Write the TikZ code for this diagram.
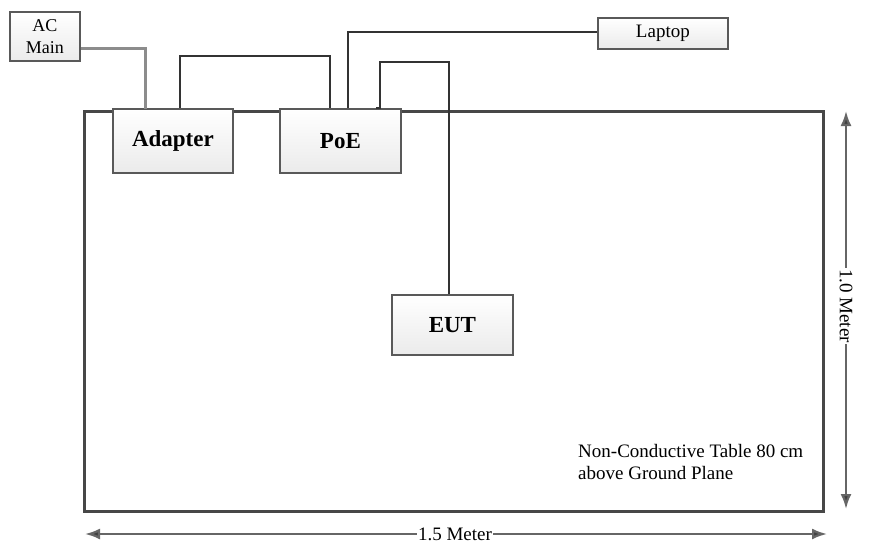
\documentclass[tikz,border=0pt]{standalone}
\usepackage{fontspec}
\setmainfont{Liberation Serif}
\usetikzlibrary{shadows,arrows.meta}
\begin{document}
\begin{tikzpicture}[x=1pt,y=-1pt,
  box/.style={draw=black!65,line width=1.8pt,top color=white,bottom color=black!8,
    drop shadow={shadow xshift=1.5pt,shadow yshift=-1.5pt,opacity=0.35},inner sep=0pt},
  wire/.style={draw=black!80,line width=1.8pt},
  graywire/.style={draw=black!45,line width=3pt},
  dim/.style={draw=black!60,line width=2.2pt,-{Latex[length=15pt,width=11pt,fill=black!75]}},
  big/.style={font=\fontsize{23}{26}\selectfont\bfseries},
  small/.style={font=\fontsize{19}{22}\selectfont}]
\useasboundingbox (0,0) rectangle (870,554);
% table
\node[draw=black!72,line width=2.8pt,minimum width=739pt,minimum height=400pt,inner sep=0pt,anchor=north west] (table) at (83,110) {};
% boxes
\node[box,font=\fontsize{18}{22}\selectfont,minimum width=70pt,minimum height=49pt,align=center,anchor=north west] (ac) at (9,11) {AC\\Main};
\node[box,small,minimum width=130pt,minimum height=31pt,anchor=north west] (laptop) at (597,17) {Laptop};
\node[box,big,minimum width=120pt,minimum height=64pt,anchor=north west] (adapter) at (112,108) {Adapter};
\node[box,big,minimum width=121pt,minimum height=64pt,anchor=north west] (poe) at (279,108) {PoE};
\node[box,big,minimum width=121pt,minimum height=60pt,anchor=north west] (eut) at (391,294) {EUT};
% wires
\coordinate (acin) at (145,109);
\draw[graywire] (ac.east |- 0,48) -- (145,48) -- (acin);
\draw[wire] (180,108) -- (180,56) -- (330,56) -- (330,108);
\draw[wire] (348,108) -- (348,32) -- (laptop.west |- 0,32);
\draw[wire] (376,108) -- (380,108) -- (380,62) -- (449,62) -- (eut.north -| 449,0);
% dimensions
\node[small,rotate=-90,inner sep=1pt] (vlab) at (846,306) {1.0 Meter};
\coordinate (vtop) at (846,111);
\coordinate (vbot) at (846,509);
\draw[dim] (vlab.west) -- (vtop);
\draw[dim] (vlab.east) -- (vbot);
\node[small,inner sep=1pt] (hlab) at (455,534) {1.5 Meter};
\coordinate (hleft) at (85,534);
\coordinate (hright) at (827,534);
\draw[dim] (hlab.west) -- (hleft);
\draw[dim] (hlab.east) -- (hright);
% table note
\node[small,align=left,anchor=north west,inner sep=0pt] (note) at (578,444) {Non-Conductive Table 80 cm\\above Ground Plane};
\end{tikzpicture}
\end{document}
